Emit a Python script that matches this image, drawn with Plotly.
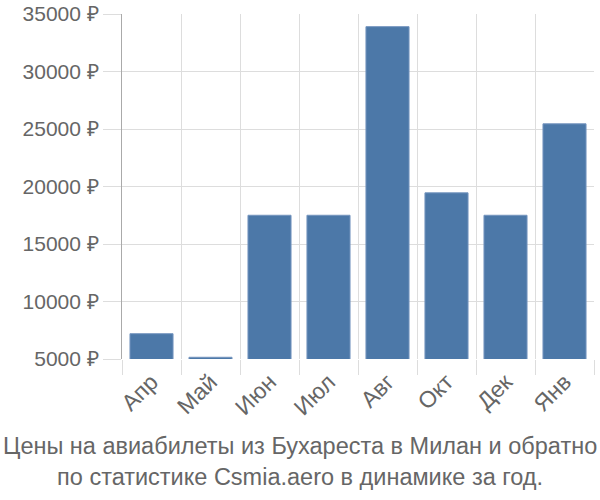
import plotly.graph_objects as go

months = ["Апр", "Май", "Июн", "Июл", "Авг", "Окт", "Дек", "Янв"]
prices = [7200, 5150, 17500, 17500, 33900, 19450, 17500, 25450]
y_ticks = [5000, 10000, 15000, 20000, 25000, 30000, 35000]
y_labels = [f"{v} ₽" for v in y_ticks]
title_lines = ["Цены на авиабилеты из Бухареста в Милан и обратно",
               "по статистике Csmia.aero в динамике за год."]

fig = go.Figure(go.Bar(
    x=months, y=prices,
    marker=dict(color="#4c78a8", line=dict(color="#7595bf", width=1)),
))

fig.update_layout(
    width=600, height=500,
    margin=dict(l=122, r=6, t=14, b=141, autoexpand=False),
    plot_bgcolor="white", paper_bgcolor="white",
    bargap=0.27,
    showlegend=False,
    font=dict(family="Liberation Sans, Arial, sans-serif", color="#666666"),
    annotations=[dict(
        text="<br>".join(title_lines),
        xref="paper", x=(300 - 122) / 472, yref="paper", y=(359 - 462) / 345,
        xanchor="center", yanchor="middle",
        showarrow=False,
        font=dict(size=23.5, color="#666666"),
    )],
)
fig.update_xaxes(
    tickson="boundaries", showgrid=True, gridcolor="#dddddd", gridwidth=1,
    ticks="outside", ticklen=15, tickcolor="#dddddd", tickangle=-45,
    tickfont=dict(size=23, color="#666666"), ticklabelstandoff=4,
    showline=False, automargin=False,
)
fig.update_yaxes(
    range=[5000, 35000], tickvals=y_ticks, ticktext=y_labels,
    showgrid=True, gridcolor="#dddddd", gridwidth=1,
    ticks="outside", ticklen=18, tickcolor="#dddddd",
    tickfont=dict(size=21, color="#666666"),
    showline=True, linecolor="#aaaaaa", linewidth=1,
    zeroline=False, automargin=False,
)
fig.write_html("out.html")
